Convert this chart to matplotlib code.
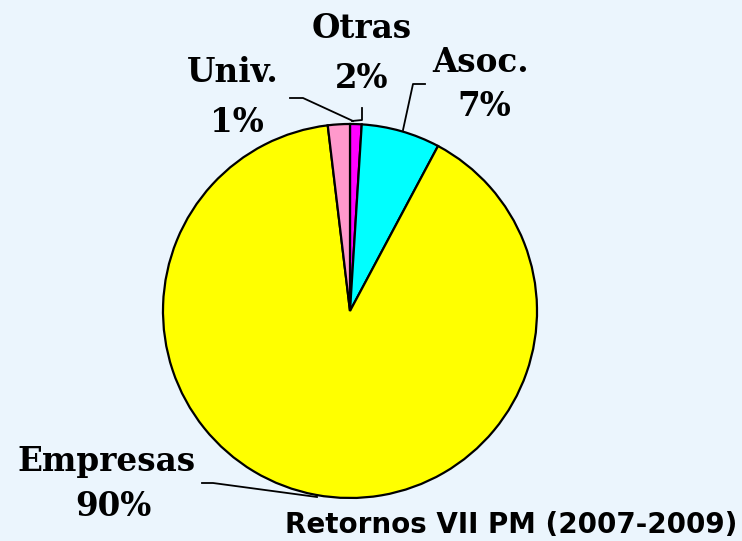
import matplotlib
matplotlib.use('Agg')
import matplotlib.pyplot as plt

# slices clockwise from 12 o'clock
labels = ['Univ.', 'Asoc.', 'Empresas', 'Otras']
values = [1.0, 6.8, 90.3, 1.9]
pct_labels = ['1%', '7%', '90%', '2%']
colors = ['#FF00FF', '#00FFFF', '#FFFF00', '#FF99CC']

bg = '#EBF5FD'
W, H = 742, 541
cx, cy, r = 350, 311, 187

fig = plt.figure(figsize=(W / 100, H / 100), dpi=100, facecolor=bg)
ax = fig.add_axes([(cx - r) / W, (H - cy - r) / H, 2 * r / W, 2 * r / H])
ax.set_facecolor(bg)

ax.pie(values, colors=colors, startangle=90, counterclock=False,
       wedgeprops=dict(edgecolor='black', linewidth=1.6))
ax.set_xlim(-1, 1)
ax.set_ylim(-1, 1)
ax.axis('off')


def px(x, y):
    # pixel position in the picture -> data coords of the pie axes
    return (x - cx) / r, (cy - y) / r


lab_font = dict(family='DejaVu Serif', weight='bold', size=23.5,
                ha='center', va='center', color='black')

# label positions (pixels): name, percent
pos = {
    'Univ.': ((233, 73), (237, 122)),
    'Asoc.': ((481, 63), (484, 106)),
    'Empresas': ((107, 462), (113, 506)),
    'Otras': ((362, 28), (362, 78)),
}
for name, pct in zip(labels, pct_labels):
    (x1, y1), (x2, y2) = pos[name]
    ax.text(*px(x1, y1), name, clip_on=False, **lab_font)
    ax.text(*px(x2, y2), pct, clip_on=False, **lab_font)

# leader lines
leaders = [
    [(290, 98), (303, 98), (353, 121)],
    [(362, 108), (362, 120), (352, 121)],
    [(425, 84), (413, 84), (403, 130)],
    [(202, 483), (213, 483), (317, 497)],
]
for pts in leaders:
    xs, ys = zip(*[px(x, y) for x, y in pts])
    ax.plot(xs, ys, color='black', lw=1.3, clip_on=False)

fig.text(737 / W, 1 - 525 / H, 'Retornos VII PM (2007-2009)',
         ha='right', va='center', fontsize=20, fontweight='bold',
         family='DejaVu Sans', color='black')

fig.savefig('out.png', dpi=100, facecolor=bg)
